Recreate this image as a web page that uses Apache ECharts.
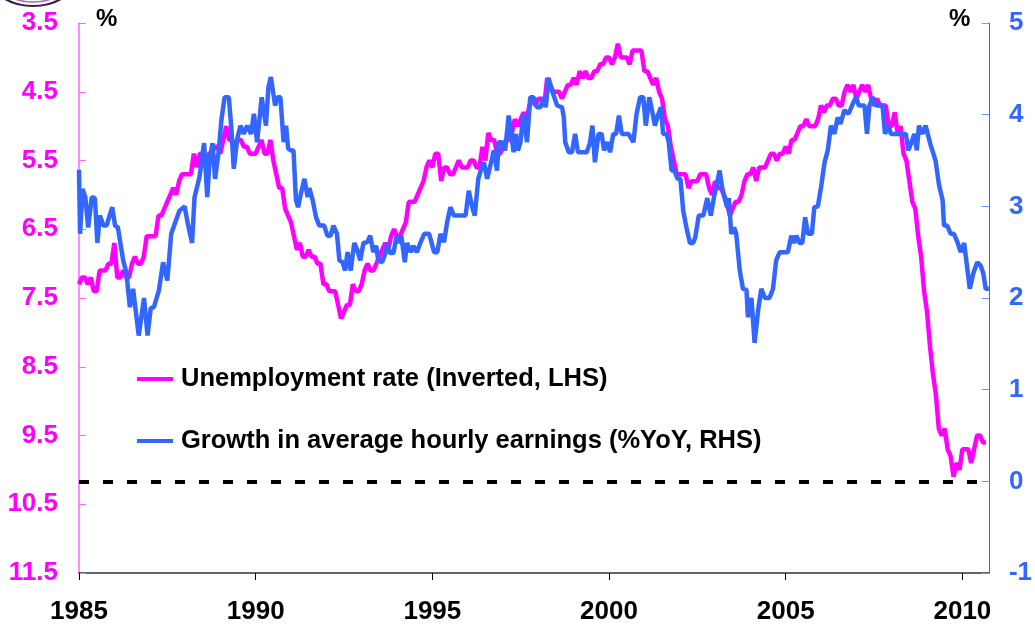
<!DOCTYPE html>
<html>
<head>
<meta charset="utf-8">
<script src="https://cdn.jsdelivr.net/npm/echarts@6/dist/echarts.min.js"></script>
<style>
  html, body { margin: 0; padding: 0; background: #fff; }
  #chart { width: 1035px; height: 628px; }
</style>
</head>
<body>
<div id="chart"></div>
<script>
// unemployment rate, monthly from Jan 1985 (LHS, inverted)
var unemp1985 = [
  7.3, 7.2, 7.2, 7.3, 7.2, 7.4, 7.4, 7.1, 7.1, 7.1, 7.0, 7.0,
  6.7, 7.2, 7.2, 7.1, 7.2, 7.2, 7.0, 6.9, 7.0, 7.0, 6.9, 6.6,
  6.6, 6.6, 6.6, 6.3, 6.3, 6.2, 6.1, 6.0, 5.9, 6.0, 5.8, 5.7,
  5.7, 5.7, 5.7, 5.4, 5.6, 5.4, 5.4, 5.6, 5.4, 5.4, 5.3, 5.3,
  5.4, 5.2, 5.0, 5.2, 5.2, 5.3, 5.2, 5.2, 5.3, 5.3, 5.4, 5.4,
  5.4, 5.3, 5.2, 5.4, 5.4, 5.2, 5.5, 5.7, 5.9, 5.9, 6.2, 6.3,
  6.4, 6.6, 6.8, 6.7, 6.9, 6.9, 6.8, 6.9, 6.9, 7.0, 7.0, 7.3,
  7.3, 7.4, 7.4, 7.4, 7.6, 7.8, 7.7, 7.6, 7.6, 7.3, 7.4, 7.4,
  7.3, 7.1, 7.0, 7.1, 7.1, 7.0, 6.9, 6.8, 6.7, 6.8, 6.6, 6.5
];
var unemp1994 = [
  6.6, 6.6, 6.5, 6.4, 6.1, 6.1, 6.1, 6.0, 5.9, 5.8, 5.6, 5.5,
  5.6, 5.4, 5.4, 5.8, 5.6, 5.6, 5.7, 5.7, 5.6, 5.5, 5.6, 5.6,
  5.6, 5.5, 5.5, 5.6, 5.6, 5.3, 5.5, 5.1, 5.2, 5.2, 5.4, 5.4,
  5.3, 5.2, 5.2, 5.1, 4.9, 5.0, 4.9, 4.8, 4.9, 4.7, 4.6, 4.7,
  4.6, 4.6, 4.7, 4.3, 4.4, 4.5, 4.5, 4.5, 4.6, 4.5, 4.4, 4.4,
  4.3, 4.4, 4.2, 4.3, 4.2, 4.3, 4.3, 4.2, 4.2, 4.1, 4.1, 4.0,
  4.0, 4.1, 4.0, 3.8, 4.0, 4.0, 4.0, 4.1, 3.9, 3.9, 3.9, 3.9,
  4.2, 4.2, 4.3, 4.4, 4.3, 4.5, 4.6, 4.9, 5.0, 5.3, 5.5, 5.7
];
var unemp2002 = [
  5.7, 5.7, 5.7, 5.9, 5.8, 5.8, 5.8, 5.7, 5.7, 5.7, 5.9, 6.0,
  5.8, 5.9, 5.9, 6.0, 6.1, 6.3, 6.2, 6.1, 6.1, 6.0, 5.8, 5.7,
  5.7, 5.6, 5.8, 5.6, 5.6, 5.6, 5.5, 5.4, 5.4, 5.5, 5.4, 5.4,
  5.3, 5.4, 5.2, 5.2, 5.1, 5.0, 5.0, 4.9, 5.0, 5.0, 5.0, 4.9,
  4.7, 4.8, 4.7, 4.7, 4.6, 4.6, 4.7, 4.7, 4.5, 4.4, 4.5, 4.4,
  4.6, 4.5, 4.4, 4.5, 4.4, 4.6, 4.7, 4.6, 4.7, 4.7, 4.7, 5.0,
  5.0, 4.8, 5.1, 5.0, 5.4, 5.5, 5.8, 6.1, 6.2, 6.6, 6.9, 7.4,
  7.7, 8.2, 8.6, 8.9, 9.4, 9.5, 9.4, 9.7, 9.8, 10.1, 9.9, 10.0,
  9.7, 9.7, 9.7, 9.9, 9.7, 9.5, 9.5, 9.6, 9.6
];
var unemp = unemp1985.concat(unemp1994, unemp2002);

// average hourly earnings growth, %YoY (RHS), time as decimal year
var earnT = [
  1985.00, 1985.03, 1985.10, 1985.18, 1985.26, 1985.36, 1985.45, 1985.52, 1985.59, 1985.69, 1985.78, 1985.94,
  1986.02, 1986.10, 1986.25, 1986.34, 1986.44, 1986.53, 1986.69, 1986.84, 1986.94, 1987.03, 1987.12, 1987.26,
  1987.38, 1987.50, 1987.61, 1987.71, 1987.84, 1987.99, 1988.08, 1988.20, 1988.27, 1988.41, 1988.54, 1988.63,
  1988.70, 1988.78, 1988.85, 1988.95, 1989.03, 1989.12, 1989.24, 1989.31, 1989.38, 1989.48, 1989.57, 1989.66,
  1989.76, 1989.87, 1989.95, 1990.04, 1990.17, 1990.29, 1990.36, 1990.43, 1990.55, 1990.62, 1990.70, 1990.79,
  1990.86, 1990.92, 1991.00, 1991.07, 1991.14, 1991.20, 1991.28, 1991.38, 1991.47, 1991.52, 1991.61, 1991.71,
  1991.80, 1991.94, 1992.03, 1992.12, 1992.20, 1992.30, 1992.37, 1992.46, 1992.53, 1992.60, 1992.69, 1992.79,
  1992.88, 1992.96, 1993.05, 1993.16, 1993.24, 1993.33, 1993.41, 1993.47, 1993.58, 1993.68, 1993.73, 1993.80,
  1993.90, 1993.99, 1994.05, 1994.12, 1994.22, 1994.28, 1994.39, 1994.46, 1994.56, 1994.67, 1994.77, 1994.91,
  1995.05, 1995.14, 1995.23, 1995.33, 1995.42, 1995.51, 1995.61, 1995.94, 1996.03, 1996.13, 1996.20, 1996.30,
  1996.37, 1996.46, 1996.55, 1996.65, 1996.74, 1996.83, 1996.88, 1996.97, 1997.06, 1997.16, 1997.23, 1997.30,
  1997.37, 1997.42, 1997.49, 1997.58, 1997.68, 1997.77, 1997.86, 1997.96, 1998.06, 1998.15, 1998.21, 1998.29,
  1998.39, 1998.53, 1998.67, 1998.72, 1998.76, 1998.86, 1998.95, 1999.04, 1999.12, 1999.37, 1999.46, 1999.53,
  1999.60, 1999.70, 1999.79, 1999.86, 1999.95, 2000.03, 2000.12, 2000.20, 2000.28, 2000.36, 2000.55, 2000.69,
  2000.78, 2000.88, 2000.97, 2001.04, 2001.14, 2001.20, 2001.30, 2001.38, 2001.47, 2001.53, 2001.63, 2001.69,
  2001.77, 2001.85, 2001.94, 2002.02, 2002.10, 2002.19, 2002.29, 2002.38, 2002.44, 2002.54, 2002.67, 2002.78,
  2002.88, 2002.97, 2003.07, 2003.13, 2003.20, 2003.27, 2003.34, 2003.39, 2003.46, 2003.54, 2003.60, 2003.70,
  2003.79, 2003.89, 2003.93, 2004.03, 2004.12, 2004.22, 2004.31, 2004.41, 2004.54, 2004.64, 2004.73, 2004.83,
  2004.96, 2005.06, 2005.16, 2005.23, 2005.30, 2005.39, 2005.47, 2005.55, 2005.63, 2005.74, 2005.81, 2005.91,
  2006.00, 2006.10, 2006.19, 2006.28, 2006.38, 2006.47, 2006.55, 2006.66, 2006.78, 2006.90, 2006.99, 2007.07,
  2007.23, 2007.30, 2007.37, 2007.46, 2007.56, 2007.74, 2007.81, 2007.90, 2007.98, 2008.31, 2008.40, 2008.47,
  2008.56, 2008.64, 2008.71, 2008.77, 2008.87, 2008.96, 2009.10, 2009.24, 2009.34, 2009.44, 2009.48, 2009.57,
  2009.67, 2009.76, 2009.86, 2009.95, 2010.05, 2010.12, 2010.21, 2010.31, 2010.42, 2010.52, 2010.59, 2010.66,
  2010.75
];
var earnV = [
  3.40, 2.70, 3.19, 3.10, 2.77, 3.10, 3.09, 2.60, 2.90, 2.79, 2.79, 2.99,
  2.79, 2.77, 2.41, 2.28, 1.90, 2.10, 1.59, 2.00, 1.59, 1.89, 1.90, 2.08,
  2.39, 2.19, 2.70, 2.81, 2.95, 3.00, 2.81, 2.60, 3.10, 3.32, 3.69, 3.10,
  3.52, 3.69, 3.30, 3.59, 3.94, 4.19, 4.19, 3.86, 3.41, 3.74, 3.88, 3.79,
  3.88, 3.79, 4.01, 3.70, 4.19, 3.88, 4.30, 4.41, 4.10, 4.19, 4.19, 3.70,
  3.88, 3.63, 3.61, 3.61, 3.07, 2.99, 3.14, 3.30, 3.10, 3.20, 3.07, 2.88,
  2.79, 2.79, 2.68, 2.68, 2.79, 2.70, 2.41, 2.39, 2.30, 2.50, 2.30, 2.60,
  2.52, 2.41, 2.60, 2.61, 2.68, 2.50, 2.57, 2.41, 2.39, 2.50, 2.60, 2.49,
  2.49, 2.68, 2.60, 2.68, 2.39, 2.60, 2.50, 2.57, 2.50, 2.61, 2.70, 2.70,
  2.50, 2.50, 2.70, 2.61, 2.83, 2.99, 2.90, 2.90, 3.17, 2.99, 2.90, 3.30,
  3.39, 3.48, 3.30, 3.46, 3.61, 3.39, 3.70, 3.70, 3.61, 3.99, 3.79, 3.59,
  3.79, 3.61, 3.69, 4.01, 3.70, 4.19, 4.19, 4.08, 4.08, 4.19, 4.08, 4.40,
  4.26, 4.10, 4.08, 3.97, 3.70, 3.59, 3.59, 3.79, 3.59, 3.59, 3.69, 3.88,
  3.48, 3.79, 3.79, 3.61, 3.70, 3.59, 3.79, 3.79, 3.99, 3.79, 3.79, 3.70,
  4.01, 4.19, 4.19, 3.88, 4.19, 4.08, 3.88, 3.99, 4.08, 3.79, 3.79, 3.70,
  3.39, 3.39, 3.30, 3.30, 2.95, 2.77, 2.60, 2.60, 2.66, 2.90, 2.90, 3.09,
  2.90, 3.10, 3.28, 3.39, 3.21, 3.09, 2.99, 3.09, 2.70, 2.77, 2.70, 2.30,
  2.10, 2.09, 1.79, 2.00, 1.51, 1.87, 2.10, 2.00, 2.00, 2.10, 2.41, 2.50,
  2.50, 2.50, 2.68, 2.60, 2.68, 2.60, 2.60, 2.88, 2.70, 2.70, 2.99, 3.00,
  3.21, 3.48, 3.61, 3.88, 3.79, 3.97, 3.90, 4.05, 4.01, 4.12, 4.19, 4.10,
  4.10, 3.79, 4.10, 4.19, 4.10, 4.10, 3.79, 3.88, 3.79, 3.79, 3.79, 3.61,
  3.70, 3.79, 3.61, 3.88, 3.79, 3.88, 3.67, 3.50, 3.23, 3.07, 2.79, 2.79,
  2.70, 2.70, 2.61, 2.50, 2.60, 2.38, 2.10, 2.27, 2.39, 2.35, 2.27, 2.10,
  2.10
];

var leftTicks = [3.5, 11.5];   // LHS range (inverted)
var rightTicks = [-1, 5];      // RHS range
var yearRange = [1985, 2010.75];

var unempName = 'Unemployment rate (Inverted, LHS)';
var earnName = 'Growth in average hourly earnings (%YoY, RHS)';

var FONT = '"Liberation Sans", Arial, sans-serif';
var MAGENTA = '#ff00ff';
var BLUE = '#3366ff';

var chart = echarts.init(document.getElementById('chart'));

var unempData = unemp.map(function (v, i) { return [yearRange[0] + i / 12, v]; });
var earnData = earnT.map(function (t, i) { return [t, earnV[i]]; });

chart.setOption({
  animation: false,
  backgroundColor: '#fff',
  textStyle: { fontFamily: FONT },
  grid: { left: 79, right: 44, top: 23, bottom: 55 },
  legend: {
    orient: 'vertical',
    left: 137,
    top: 364,
    padding: 0,
    itemWidth: 36,
    itemHeight: 4,
    itemGap: 32,
    icon: 'rect',
    selectedMode: false,
    textStyle: {
      fontFamily: FONT, fontSize: 25.5, fontWeight: 'bold', color: '#000',
      lineHeight: 30, padding: [0, 0, 0, 3]
    },
    data: [unempName, earnName]
  },
  xAxis: {
    type: 'value',
    min: yearRange[0],
    max: yearRange[1],
    interval: 5,
    splitLine: { show: false },
    axisLine: { onZero: false, lineStyle: { color: '#333', width: 1.5 } },
    axisTick: { inside: false, length: 7, lineStyle: { color: '#000' } },
    axisLabel: {
      margin: 26, fontSize: 26, fontWeight: 'bold', color: '#000',
      fontFamily: FONT, showMaxLabel: false,
      formatter: function (v) { return String(Math.round(v)); }
    }
  },
  yAxis: [
    {
      type: 'value',
      inverse: true,
      min: leftTicks[0],
      max: leftTicks[1],
      interval: 1,
      position: 'left',
      splitLine: { show: false },
      axisLine: { show: true, lineStyle: { color: '#ff66ff', width: 1.5 } },
      axisTick: { show: true, inside: true, length: 7, lineStyle: { color: '#ff66ff' } },
      axisLabel: {
        margin: 21, fontSize: 26, fontWeight: 'bold', color: MAGENTA, fontFamily: FONT,
        formatter: function (v) { return v.toFixed(1); }
      }
    },
    {
      type: 'value',
      min: rightTicks[0],
      max: rightTicks[1],
      interval: 1,
      position: 'right',
      splitLine: { show: false },
      axisLine: { show: true, lineStyle: { color: BLUE, width: 1 } },
      axisTick: { show: true, inside: true, length: 7, lineStyle: { color: '#6f94ff' } },
      axisLabel: { margin: 20, fontSize: 26, fontWeight: 'bold', color: BLUE, fontFamily: FONT }
    }
  ],
  graphic: [
    { type: 'text', left: 96, top: 7, style: { text: '%', font: 'bold 24px ' + FONT, fill: '#000' } },
    { type: 'text', left: 949, top: 7, style: { text: '%', font: 'bold 24px ' + FONT, fill: '#000' } },
    {
      type: 'circle', x: 33, y: -19, scaleX: 1.6, scaleY: 1,
      shape: { cx: 0, cy: 0, r: 25 },
      style: { fill: 'none', stroke: '#3d1f4a', lineWidth: 2, strokeNoScale: true }
    },
    {
      type: 'circle', x: 33, y: -21, scaleX: 1.6, scaleY: 1,
      shape: { cx: 0, cy: 0, r: 23 },
      style: { fill: 'none', stroke: '#9b6aa6', lineWidth: 1.5, strokeNoScale: true }
    }
  ],
  series: [
    {
      name: unempName,
      type: 'line',
      yAxisIndex: 0,
      data: unempData,
      showSymbol: false,
      symbol: 'none',
      color: MAGENTA,
      lineStyle: { color: MAGENTA, width: 4.5 }
    },
    {
      name: earnName,
      type: 'line',
      yAxisIndex: 1,
      data: earnData,
      showSymbol: false,
      symbol: 'none',
      color: BLUE,
      lineStyle: { color: BLUE, width: 4.5 },
      markLine: {
        silent: true,
        symbol: 'none',
        label: { show: false },
        lineStyle: { color: '#000', width: 4, type: [10, 14] },
        data: [{ yAxis: 0 }]
      }
    }
  ]
});
</script>
</body>
</html>
